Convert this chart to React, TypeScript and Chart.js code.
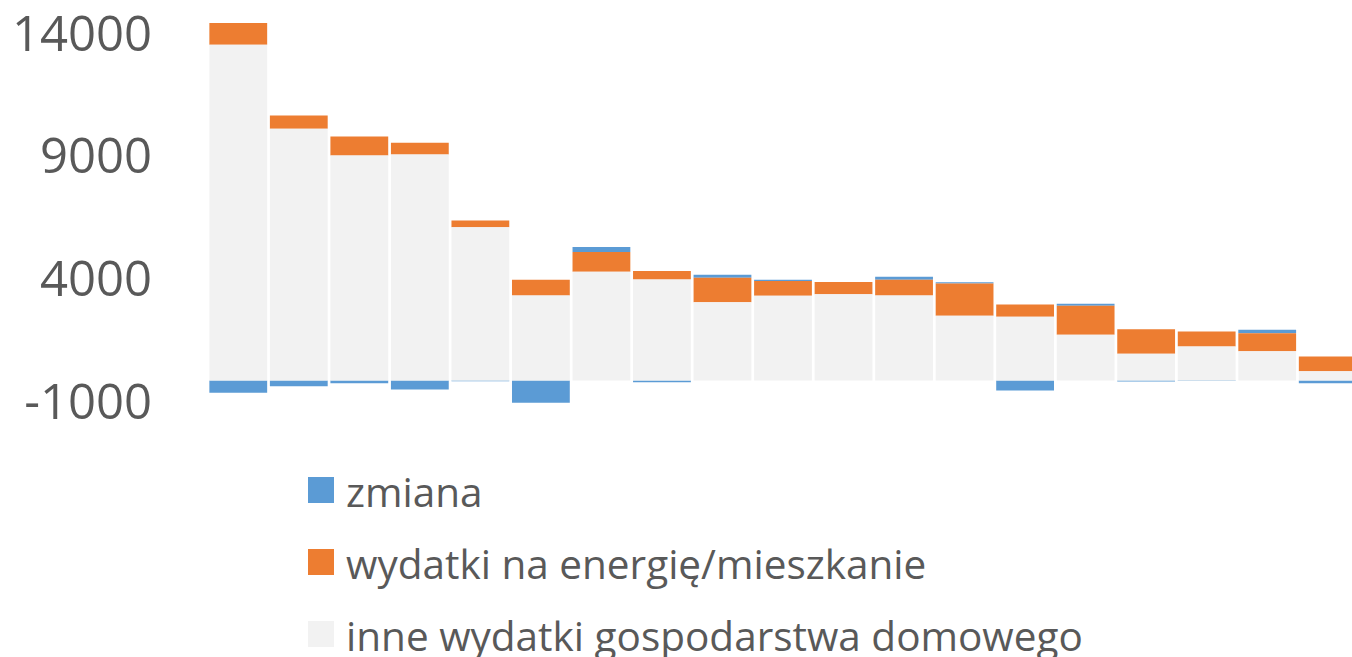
import React, { useEffect, useRef } from "react";
import { Chart, registerables } from "chart.js";

Chart.register(...registerables);

const categories = ["1", "2", "3", "4", "5", "6", "7", "8", "9", "10", "11", "12", "13", "14", "15", "16", "17", "18", "19"];
const inneWydatki = [13670, 10250, 9160, 9200, 6240, 3460, 4430, 4110, 3180, 3450, 3510, 3460, 2630, 2590, 1860, 1090, 1380, 1190, 370];
const wydatkiEnergia = [880, 540, 770, 480, 270, 640, 800, 350, 1000, 600, 500, 640, 1320, 500, 1180, 990, 610, 730, 600];
const zmiana = [-500, -240, -110, -370, -30, -910, 200, -70, 120, 50, 0, 120, 50, -410, 80, -40, -20, 140, -110];
const yTickValues = [-1000, 4000, 9000, 14000];
const seriesNames = ["zmiana", "wydatki na energię/mieszkanie", "inne wydatki gospodarstwa domowego"];
const seriesColors = ["#5B9BD5", "#ED7D31", "#F2F2F2"];

const FONT = "'Open Sans', 'Noto Sans', sans-serif";
const TEXT_COLOR = "#595959";

export default function App() {
  const canvasRef = useRef<HTMLCanvasElement | null>(null);

  useEffect(() => {
    const canvas = canvasRef.current;
    if (!canvas) return;
    const chart = new Chart(canvas, {
      type: "bar",
      data: {
        labels: categories,
        datasets: [
          {
            label: seriesNames[2],
            data: inneWydatki,
            backgroundColor: seriesColors[2],
            stack: "s",
          },
          {
            label: seriesNames[1],
            data: wydatkiEnergia,
            backgroundColor: seriesColors[1],
            stack: "s",
          },
          {
            label: seriesNames[0],
            data: zmiana,
            backgroundColor: seriesColors[0],
            stack: "s",
          },
        ],
      },
      options: {
        animation: false,
        responsive: true,
        maintainAspectRatio: false,
        layout: { padding: { left: 15, right: 0, top: 12, bottom: 35 } },
        datasets: {
          bar: { barPercentage: 1, categoryPercentage: 0.955, borderWidth: 0 },
        },
        plugins: {
          legend: { display: false },
          tooltip: { enabled: false },
        },
        scales: {
          x: {
            stacked: true,
            display: false,
          },
          y: {
            stacked: true,
            min: -1000,
            max: 15000,
            grid: { display: false, drawTicks: false },
            border: { display: false },
            afterBuildTicks: (axis: any) => {
              axis.ticks = yTickValues.map((v) => ({ value: v }));
            },
            afterFit: (axis: any) => {
              axis.width = 193;
              axis.paddingTop = 0;
              axis.paddingBottom = 0;
              axis.paddingLeft = 0;
              axis.paddingRight = 0;
            },
            ticks: {
              padding: 56,
              color: TEXT_COLOR,
              font: { family: FONT, size: 49 },
              callback: (v: any) => String(v),
            },
          },
        },
      },
    });
    return () => chart.destroy();
  }, []);

  const legendTops = [477, 549, 621];
  const order = [0, 1, 2];

  return (
    <div style={{ position: "fixed", left: 0, top: 0, width: 1352, height: 657, background: "#ffffff", overflow: "hidden" }}>
      <div style={{ position: "absolute", left: 0, top: 0, width: 1358, height: 440 }}>
        <canvas ref={canvasRef} />
      </div>
      {order.map((i) => (
        <div
          key={seriesNames[i]}
          style={{
            position: "absolute",
            left: 308,
            top: legendTops[i],
            height: 26,
            display: "flex",
            alignItems: "center",
            whiteSpace: "nowrap",
          }}
        >
          <div style={{ width: 26, height: 26, background: seriesColors[i], flex: "none" }} />
          <span
            style={{
              marginLeft: 12,
              fontFamily: FONT,
              fontSize: 40.5,
              color: TEXT_COLOR,
              lineHeight: "26px",
              position: "relative",
              top: 2,
            }}
          >
            {seriesNames[i]}
          </span>
        </div>
      ))}
    </div>
  );
}
